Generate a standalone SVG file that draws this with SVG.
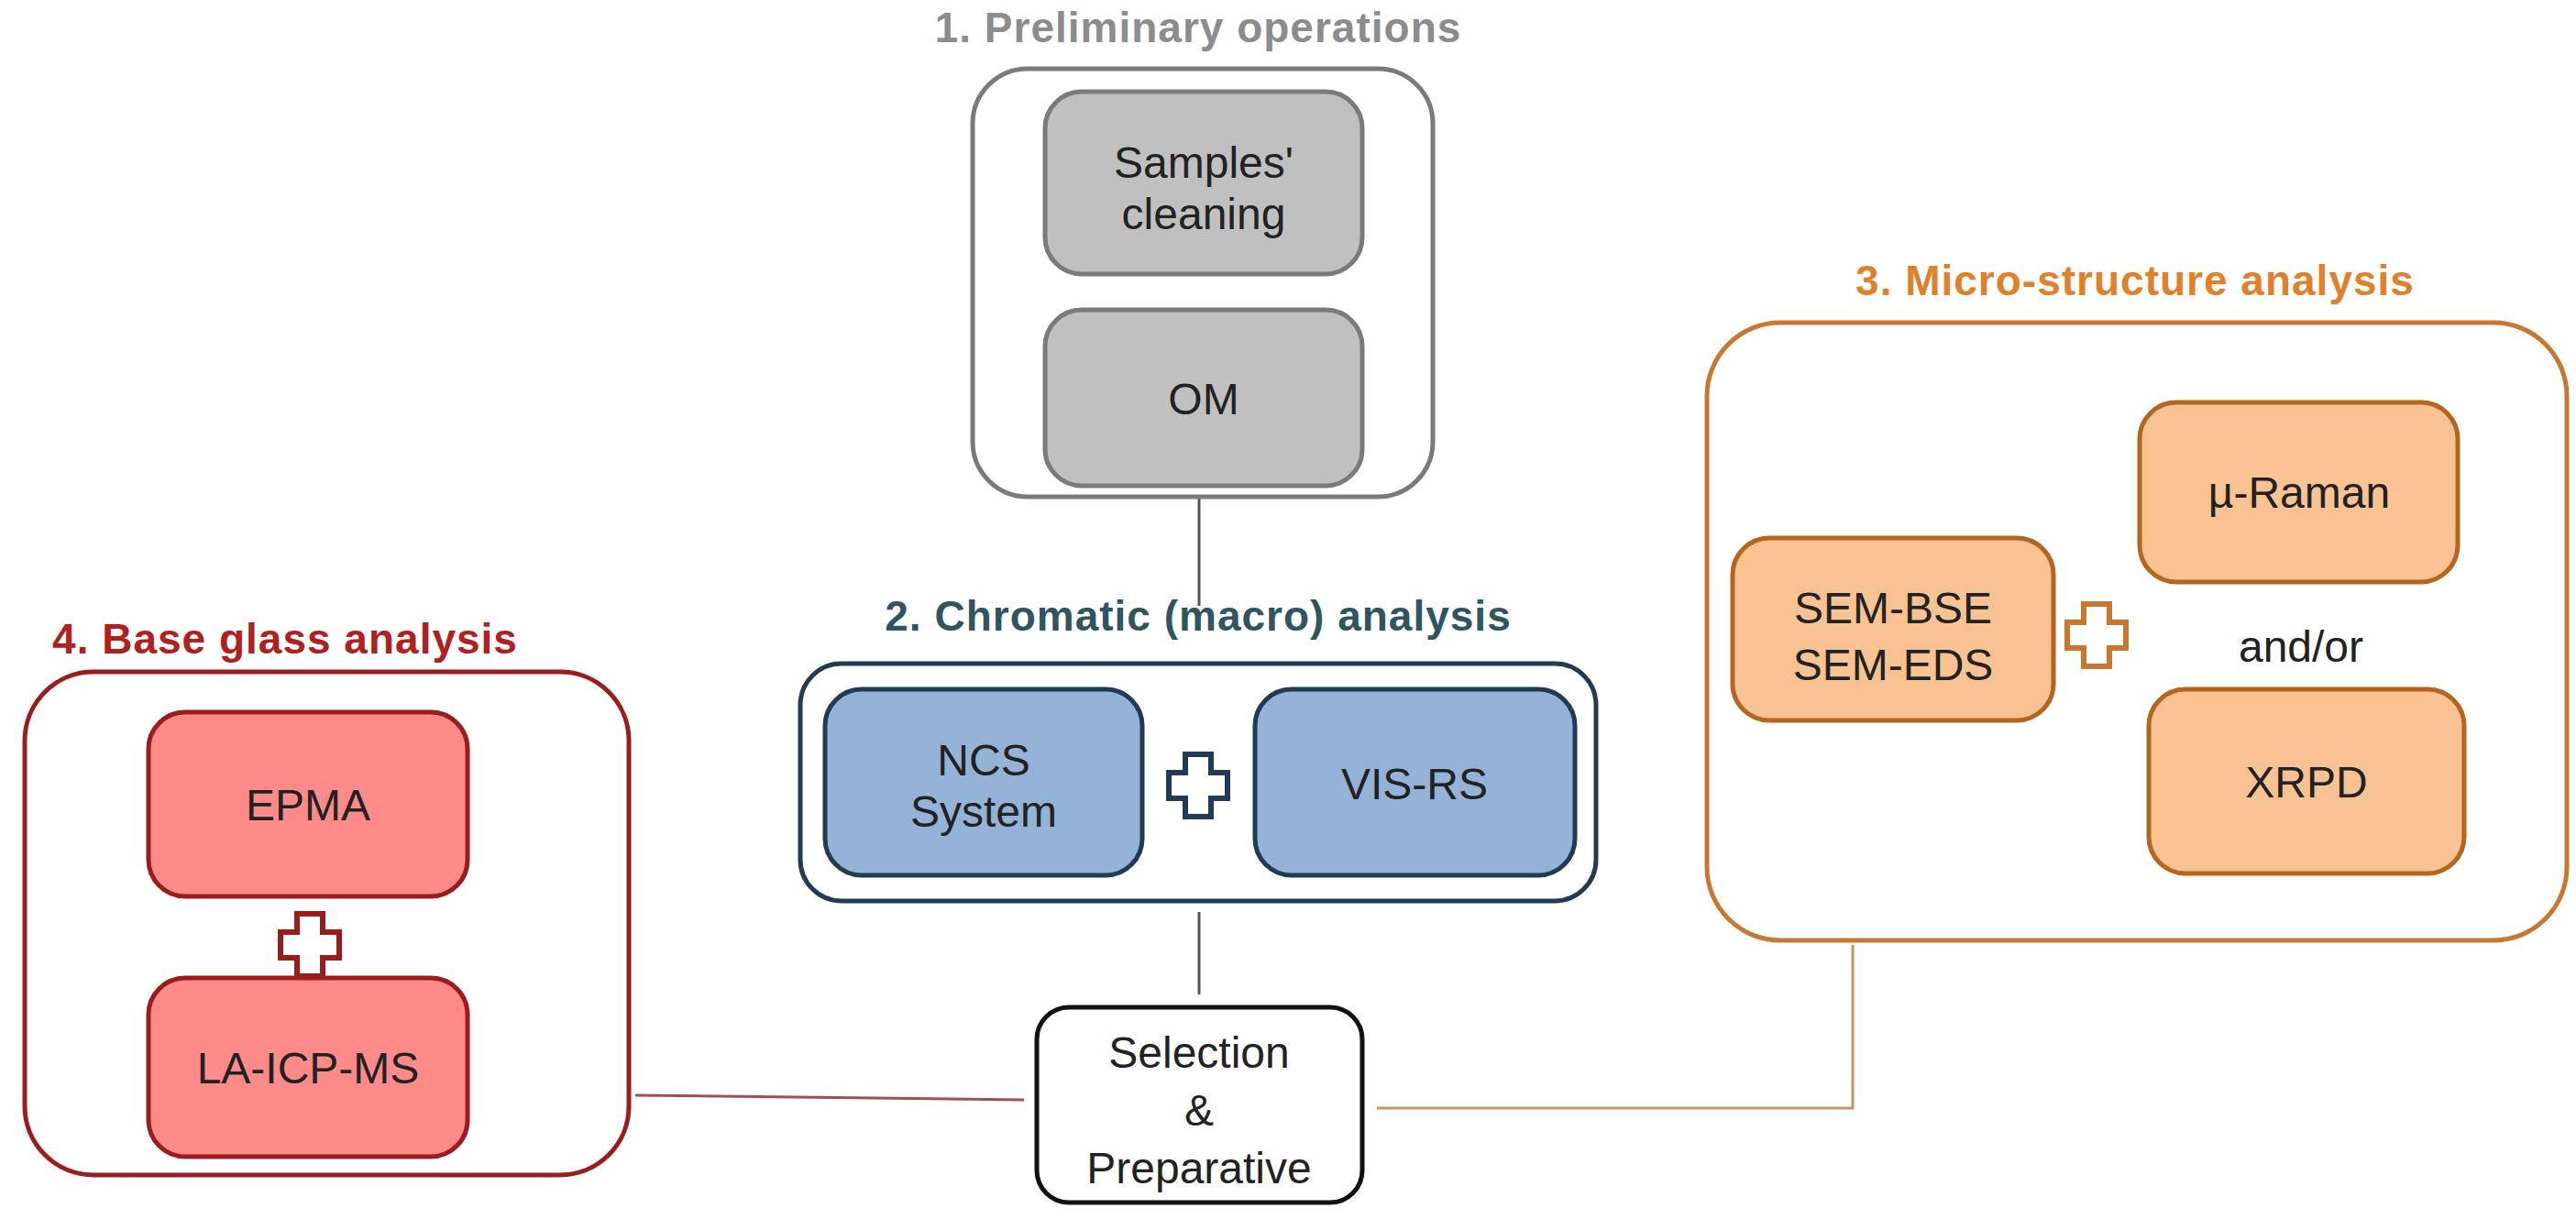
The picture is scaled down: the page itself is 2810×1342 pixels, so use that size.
<svg xmlns="http://www.w3.org/2000/svg" width="2810" height="1342" viewBox="0 0 2810 1342">
<style>
text{font-family:"Liberation Sans","DejaVu Sans",sans-serif;text-anchor:middle;}
.t{font-size:48px;fill:#222;}
.h{font-size:46px;font-weight:bold;letter-spacing:1px;}
.out{fill:#fff;stroke-width:5;}
.in{stroke-width:5;}
.g{fill:#c0c0c0;stroke:#7a7a7a;}
.b{fill:#95b3d7;stroke:#233a55;}
.r{fill:#ff8a8a;stroke:#9b1c1c;}
.o{fill:#f9c293;stroke:#b5651d;}
.line{fill:none;stroke-width:3;}
</style>
<defs>
<path id="plus" d="M-14,-34 H14 V-14 H32 V14 H14 V34 H-14 V14 H-32 V-14 H-14 Z" fill="#fff" stroke-width="6"/>
</defs>
<g id="connectors">
<line class="line" x1="1308" y1="542" x2="1308" y2="661" stroke="#555"/>
<line class="line" x1="1308" y1="995" x2="1308" y2="1085" stroke="#555"/>
<line class="line" x1="693" y1="1195" x2="1117" y2="1200" stroke="#a05050"/>
<polyline class="line" points="1502,1209 2021,1209 2021,1031" stroke="#c8955e"/>
</g>
<g id="group1">
<text class="h" x="1307" y="46" fill="#8c8c8c">1. Preliminary operations</text>
<rect class="out" x="1061" y="75" width="502" height="467" rx="60" stroke="#7a7a7a"/>
</g>
<g id="samples"><rect class="in g" x="1140" y="100" width="346" height="199" rx="40"/>
<text class="t" x="1313" y="194">Samples'</text><text class="t" x="1313" y="250">cleaning</text></g>
<g id="om"><rect class="in g" x="1140" y="338" width="346" height="192" rx="40"/>
<text class="t" x="1313" y="452">OM</text></g>
<g id="group2">
<text class="h" x="1307" y="688" fill="#2e5560">2. Chromatic (macro) analysis</text>
<rect class="out" x="873" y="724" width="868" height="259" rx="45" stroke="#233a55"/>
<use href="#plus" x="1307" y="857" stroke="#233a55"/>
</g>
<g id="ncs"><rect class="in b" x="900" y="752" width="346" height="203" rx="40"/>
<text class="t" x="1073" y="846">NCS</text><text class="t" x="1073" y="902">System</text></g>
<g id="visrs"><rect class="in b" x="1369" y="752" width="349" height="203" rx="40"/>
<text class="t" x="1543" y="872">VIS-RS</text></g>
<g id="selection"><rect x="1131" y="1099" width="355" height="213" rx="35" fill="#fff" stroke="#111" stroke-width="5"/>
<text class="t" x="1308" y="1165">Selection</text><text class="t" x="1308" y="1228">&amp;</text><text class="t" x="1308" y="1291">Preparative</text></g>
<g id="group4">
<text class="h" x="311" y="713" fill="#b0201f">4. Base glass analysis</text>
<rect class="out" x="27" y="733" width="659" height="549" rx="75" stroke="#9b1c1c"/>
<use href="#plus" x="338" y="1031" stroke="#9b1c1c"/>
</g>
<g id="epma"><rect class="in r" x="162" y="777" width="348" height="201" rx="40"/>
<text class="t" x="336" y="895">EPMA</text></g>
<g id="laicpms"><rect class="in r" x="162" y="1067" width="348" height="195" rx="40"/>
<text class="t" x="336" y="1182">LA-ICP-MS</text></g>
<g id="group3">
<text class="h" x="2329" y="322" fill="#e0802a">3. Micro-structure analysis</text>
<rect class="out" x="1862" y="352" width="938" height="674" rx="80" stroke="#c8782e"/>
<use href="#plus" x="2287" y="693" stroke="#c8782e"/>
<text class="t" x="2510" y="722">and/or</text>
</g>
<g id="sem"><rect class="in o" x="1890" y="587" width="350" height="199" rx="40"/>
<text class="t" x="2065" y="680">SEM-BSE</text><text class="t" x="2065" y="742">SEM-EDS</text></g>
<g id="raman"><rect class="in o" x="2334" y="439" width="347" height="196" rx="40"/>
<text class="t" x="2508" y="554">µ-Raman</text></g>
<g id="xrpd"><rect class="in o" x="2344" y="752" width="344" height="201" rx="40"/>
<text class="t" x="2516" y="870">XRPD</text></g>
</svg>
